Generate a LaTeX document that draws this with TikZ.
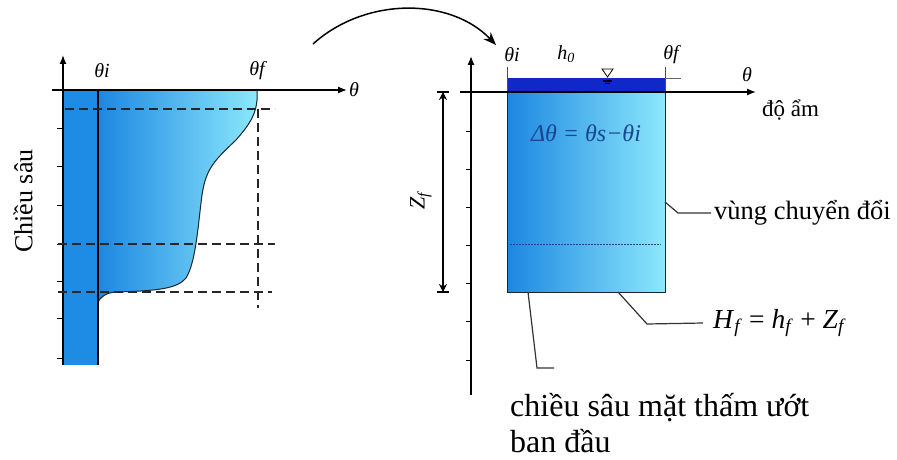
\documentclass[tikz,border=0pt]{standalone}
\usepackage{fontspec}
\setmainfont{Liberation Serif}
\usetikzlibrary{arrows.meta}
\definecolor{stripblue}{RGB}{30,140,228}
\definecolor{gradL}{RGB}{28,135,225}
\definecolor{gradR}{RGB}{140,232,252}
\definecolor{bandblue}{RGB}{16,40,200}
\definecolor{eqblue}{RGB}{25,70,140}
\definecolor{edge}{RGB}{20,40,50}
\tikzset{
  axisline/.style={line width=1.3pt,-{Latex[length=9pt,width=7pt]}},
  tickmark/.style={line width=1pt},
  dashline/.style={line width=2.6pt,dash pattern=on 9pt off 5pt,black!85},
  callout/.style={line width=1.2pt,draw=black!80},
  thlbl/.style={font=\fontsize{20}{22}\selectfont\itshape,inner sep=0},
  bigtxt/.style={font=\fontsize{32}{36}\selectfont,inner sep=0,align=left},
  midtxt/.style={font=\fontsize{26.5}{30}\selectfont,inner sep=0},
}
\begin{document}
\begin{tikzpicture}[x=1pt,y=-1pt]
\useasboundingbox[fill=white] (0,0) rectangle (897,460);

% ---------------- left diagram ----------------
\fill[stripblue] (63,90) rectangle (98,365);
\shade[left color=gradL,right color=gradR]
  (98,90) -- (257,90) -- (257,100)
  .. controls (256,112) and (252,122) .. (236,140)
  .. controls (215,160) and (206,168) .. (202,195)
  .. controls (198,225) and (196,262) .. (186,278)
  .. controls (178,288) and (160,291) .. (115,292)
  .. controls (105,293) and (100,298) .. (98,302) -- cycle;
\draw[line width=1pt,edge] (257,90) -- (257,100)
  .. controls (256,112) and (252,122) .. (236,140)
  .. controls (215,160) and (206,168) .. (202,195)
  .. controls (198,225) and (196,262) .. (186,278)
  .. controls (178,288) and (160,291) .. (115,292)
  .. controls (105,293) and (100,298) .. (98,302);
\draw[line width=1.2pt] (98,90) -- (98,365);

\coordinate (lyb) at (63,365);
\coordinate (lyt) at (63,55);
\coordinate (lxl) at (52,90);
\coordinate (lxr) at (347,90);
\draw[axisline] (lyb) -- (lyt);
\draw[axisline] (lxl) -- (lxr);
\foreach \yy in {128,166,205,244,281,318,358}
  \draw[tickmark] (57,\yy) -- (63,\yy);

\draw[dashline] (65,109) -- (275,109);
\draw[dashline] (58,244) -- (275,244);
\draw[dashline] (58,292) -- (272,292);
\draw[dashline] (258,109) -- (258,308);

\node[thlbl] (lthi) at (102,71) {θi};
\node[thlbl] (lthf) at (257,71) {θf};
\node[thlbl] (lth) at (354,90) {θ};
\node[font=\fontsize{26}{30}\selectfont,rotate=90,inner sep=0] (depth) at (23,201) {Chiều sâu};

% ---------------- curved arrow ----------------
\coordinate (ca) at (313,44);
\coordinate (cb) at (496,45);
\draw[line width=1.5pt,-{Stealth[length=13pt,width=10pt]}]
  (ca) .. controls (365,-3) and (450,-3) .. (cb);

% ---------------- right diagram ----------------
\shade[left color=gradL,right color=gradR] (507,92) rectangle (665,292);
\draw[line width=1pt,edge] (507,92) rectangle (665,292);
\fill[bandblue] (507,78) rectangle (665,92);
\draw[line width=0.8pt,black!70] (507,67) -- (507,92);
\draw[line width=0.8pt,black!70] (665,67) -- (665,92);
\draw[line width=0.8pt,black!60] (665,78) -- (681,78);
\draw[line width=0.6pt,dash pattern=on 2pt off 1pt,eqblue] (510,244) -- (661,244);

% water symbol
\draw[line width=0.8pt,fill=white] (602,69) -- (613,69) -- (607.5,77) -- cycle;
\draw[line width=1.2pt] (603,81) -- (612,81);
\draw[line width=1pt] (605,84) -- (610,84);

\coordinate (ryb) at (471,395);
\coordinate (ryt) at (471,56);
\coordinate (rxl) at (460,92);
\coordinate (rxr) at (756,92);
\draw[axisline] (ryb) -- (ryt);
\draw[axisline] (rxl) -- (rxr);
\foreach \yy in {131,169,207,245,283,321,360}
  \draw[tickmark] (466,\yy) -- (471,\yy);

% Zf dimension
\coordinate (zt) at (443,92);
\coordinate (zb) at (443,292);
\draw[line width=1.1pt,{Stealth[length=8pt,width=8pt]}-{Stealth[length=8pt,width=8pt]}] (zt) -- (zb);
\draw[line width=1.3pt] (437,92) -- (449,92);
\draw[line width=1.3pt] (437,292) -- (449,292);
\node[font=\fontsize{22}{24}\selectfont\itshape,rotate=90,inner sep=0] (zf) at (421,201) {Z\textsubscript{f}};

\node[thlbl] (rthi) at (512,55) {θi};
\node[thlbl] (rh0) at (566,54) {h\textsubscript{0}};
\node[thlbl] (rthf) at (671,55) {θf};
\node[thlbl] (rth) at (747,75) {θ};
\node[font=\fontsize{23}{26}\selectfont,inner sep=0,anchor=west] (doam) at (762,110) {độ ẩm};
\node[font=\fontsize{24}{28}\selectfont\itshape,text=eqblue,inner sep=0] (dtheta) at (586,133) {Δθ = θs−θi};

% callouts
\node[midtxt,anchor=west] (vung) at (714,213) {vùng chuyển đổi};
\node[font=\fontsize{27.5}{30}\selectfont,inner sep=0,anchor=west] (hf) at (713,323)
  {\textit{H}\textsubscript{\textit{f}} = \textit{h}\textsubscript{\textit{f}} + \textit{Z}\textsubscript{\textit{f}}};
\node[bigtxt,anchor=base west] (csm) at (510,452) {chiều sâu mặt thấm ướt\\ban đầu};

\coordinate (v1) at (665,202);
\coordinate (h1) at (618,292);
\coordinate (c1) at (528,292);
\draw[callout] (v1) -- (678,213) -- ([xshift=-3pt]vung.west);
\draw[callout] (h1) -- (647,324) -- ([xshift=-10pt]hf.west);
\draw[callout] (c1) -- (537,368) -- (554,368);
\end{tikzpicture}
\end{document}
